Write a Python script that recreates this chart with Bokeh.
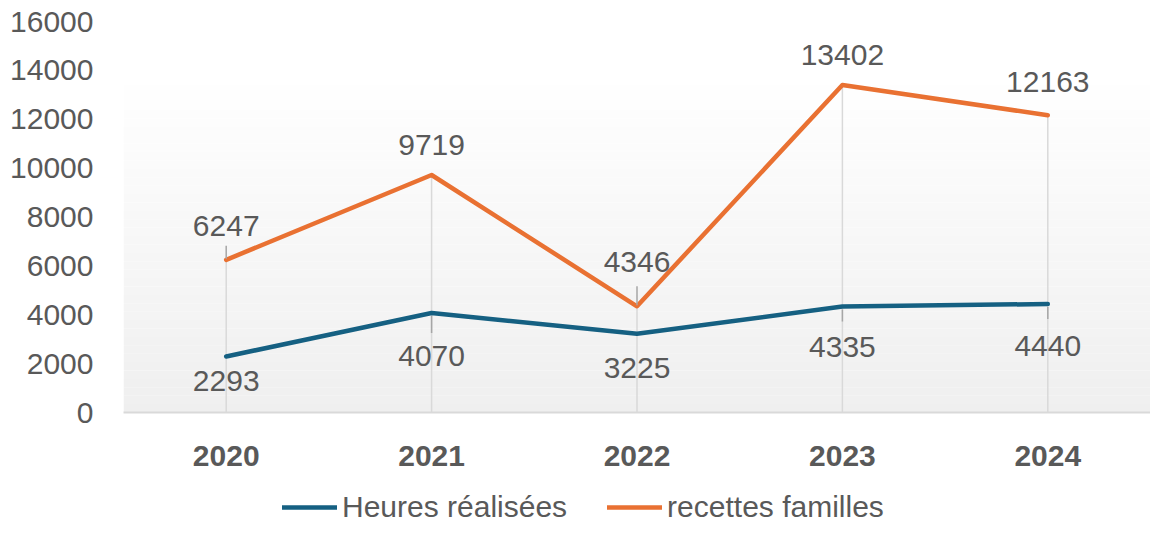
from bokeh.plotting import figure
from bokeh.layouts import column
from bokeh.models import (FactorRange, Range1d, FixedTicker, Legend, LegendItem,
                          BoxAnnotation, ColumnDataSource)
from bokeh.core.properties import value
from bokeh.embed import file_html
from bokeh.resources import INLINE

# ---------------- data ----------------
years = ["2020", "2021", "2022", "2023", "2024"]
heures = [2293, 4070, 3225, 4335, 4440]
recettes = [6247, 9719, 4346, 13402, 12163]
y_ticks = [0, 2000, 4000, 6000, 8000, 10000, 12000, 14000, 16000]
series_names = ["Heures réalisées", "recettes familles"]

# ---------------- style ----------------
BLUE = "#156082"
ORANGE = "#E97132"
TXT = "#595959"
FONT = "Liberation Sans"
FS = "30px"
Y_MAX = 16000
FRAME_H = 391
PX = Y_MAX / FRAME_H  # data units per pixel

# label offsets in pixels (positive = down)
rec_off = [-34, -30, -44, -30, -33]
heu_off = [25, 43, 34, 40, 42]
# leader line lengths in px (0 = none)
rec_lead = [13, 0, 19, 0, 0]
heu_lead = [0, 17, 0, 12, 12]

p = figure(x_range=FactorRange(factors=years), y_range=Range1d(0, Y_MAX),
           width=1150, height=487,
           min_border_left=123, min_border_right=0, min_border_top=21, min_border_bottom=75,
           output_backend="svg", toolbar_location=None)
p.outline_line_color = None
p.xgrid.visible = False
p.ygrid.visible = False
p.background_fill_color = "white"
p.border_fill_color = "white"

# gradient background (white at top -> light gray at bottom)
GRAD_TOP = 13750
N = 40
for i in range(N):
    lo = GRAD_TOP * i / N
    hi = GRAD_TOP * (i + 1) / N
    t = (i + 0.5) / N
    g = int(round(239 + (255 - 239) * t))
    p.add_layout(BoxAnnotation(bottom=lo, top=hi, fill_color=(g, g, g), fill_alpha=1.0,
                               line_color=None, level="underlay"))

# axes
p.yaxis.ticker = FixedTicker(ticks=y_ticks)
p.yaxis.axis_line_color = None
p.yaxis.major_tick_line_color = None
p.yaxis.minor_tick_line_color = None
p.yaxis.major_label_text_font = FONT
p.yaxis.major_label_text_font_size = FS
p.yaxis.major_label_text_color = TXT
p.yaxis.major_label_standoff = 24

p.xaxis.axis_line_color = "#d9d9d9"
p.xaxis.axis_line_width = 2
p.xaxis.major_tick_line_color = None
p.xaxis.minor_tick_line_color = None
p.xaxis.major_label_text_font = FONT
p.xaxis.major_label_text_font_size = FS
p.xaxis.major_label_text_font_style = "bold"
p.xaxis.major_label_text_color = TXT
p.xaxis.major_label_standoff = 27

# drop lines
tops = [max(a, b) for a, b in zip(heures, recettes)]
p.segment(x0=years, y0=[0] * len(years), x1=years, y1=tops, line_color="#d9d9d9", line_width=1.5)

# series lines
rb = p.line(years, heures, line_color=BLUE, line_width=4.5, line_join="round", line_cap="round")
ro = p.line(years, recettes, line_color=ORANGE, line_width=4.5, line_join="round", line_cap="round")

# leader lines
lx, ly0, ly1 = [], [], []
for y, v, L in zip(years, recettes, rec_lead):
    if L:
        lx.append(y); ly0.append(v + 1 * PX); ly1.append(v + (1 + L) * PX)
for y, v, L in zip(years, heures, heu_lead):
    if L:
        lx.append(y); ly0.append(v - 3 * PX); ly1.append(v - (3 + L) * PX)
p.segment(x0=lx, y0=ly0, x1=lx, y1=ly1, line_color="#a6a6a6", line_width=1.5)

# data labels
src_r = ColumnDataSource(dict(x=years, y=recettes, t=[str(v) for v in recettes], o=rec_off))
src_h = ColumnDataSource(dict(x=years, y=heures, t=[str(v) for v in heures], o=heu_off))
for src in (src_r, src_h):
    p.text(x="x", y="y", text="t", y_offset="o", source=src, text_align="center",
           text_baseline="middle", text_color=TXT, text_font=value(FONT), text_font_size=FS)

# ---------------- legend strip ----------------
p2 = figure(width=1150, height=38, x_range=FactorRange(factors=years), y_range=Range1d(0, 1),
            x_axis_location=None, y_axis_location=None,
            min_border_left=0, min_border_right=0, min_border_top=0, min_border_bottom=0,
            output_backend="svg", toolbar_location=None)
p2.outline_line_color = None
p2.xgrid.visible = False
p2.ygrid.visible = False
# proxy renderers (same series, outside this strip's visible y-range) for the legend samples
lb = p2.line(years, heures, line_color=BLUE, line_width=4.5, line_cap="round")
lr = p2.line(years, recettes, line_color=ORANGE, line_width=4.5, line_cap="round")
legend = Legend(items=[LegendItem(label=series_names[0], renderers=[lb]),
                       LegendItem(label=series_names[1], renderers=[lr])],
                orientation="horizontal", location=(159, 1),
                border_line_color=None, background_fill_alpha=0,
                label_text_font=FONT, label_text_font_size=FS, label_text_color=TXT,
                glyph_width=55, glyph_height=20, label_standoff=5, spacing=40,
                padding=0, margin=0)
p2.add_layout(legend, "center")

layout = column(p, p2, spacing=0)
open("out.html", "w").write(file_html(layout, INLINE))
